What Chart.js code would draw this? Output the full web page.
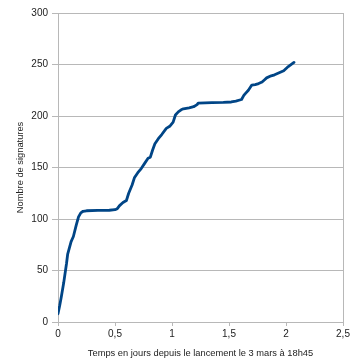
<!DOCTYPE html>
<html>
<head>
<meta charset="utf-8">
<script src="https://cdn.jsdelivr.net/npm/chart.js@4"></script>
<style>
  body { margin: 0; background: #fff; }
</style>
</head>
<body>
<canvas id="signChart" width="356" height="364"></canvas>
<script>
// temps en jours depuis le lancement
const days = [0, 0.015, 0.03, 0.05, 0.075, 0.085, 0.10, 0.115, 0.135, 0.16, 0.18, 0.20, 0.22, 0.25,
  0.35, 0.45, 0.50, 0.52, 0.54, 0.57, 0.60, 0.62, 0.65, 0.67, 0.70, 0.73, 0.76, 0.79, 0.81, 0.83,
  0.85, 0.88, 0.91, 0.95, 0.98, 1.01, 1.03, 1.055, 1.08, 1.10, 1.15, 1.19, 1.22, 1.23, 1.35, 1.45,
  1.52, 1.56, 1.61, 1.63, 1.645, 1.67, 1.70, 1.73, 1.76, 1.79, 1.81, 1.83, 1.87, 1.90, 1.94, 1.98,
  2.02, 2.07];
// nombre de signatures
const signatures = [8, 16, 25, 38, 57, 66, 72, 78, 83, 94, 102, 106, 107.5, 108,
  108.3, 108.5, 109, 110, 113, 116, 118, 125, 133, 140, 145, 149, 154, 159, 160, 167,
  173, 178, 182, 188, 190, 194, 201, 204, 206, 207, 208, 209, 211, 212.5, 213, 213.2,
  213.6, 214.5, 216, 220, 222, 225, 230, 230.5, 231.5, 233, 235, 237, 239, 240, 242, 244,
  248, 252];

const xMin = 0, xMax = 2.5, xStep = 0.5;
const yMin = 0, yMax = 300, yStep = 50;
const xTitle = "Temps en jours depuis le lancement le 3 mars à 18h45";
const yTitle = "Nombre de signatures";

const gridGray = "#b8b8b8";
const labelFont = { family: "'Liberation Sans', Arial, sans-serif", size: 10 };
const titleFont = { family: "'Liberation Sans', Arial, sans-serif", size: 9.3 };

const points = days.map((d, i) => ({ x: d, y: signatures[i] }));

const ctx = document.getElementById("signChart").getContext("2d");
new Chart(ctx, {
  type: "scatter",
  data: {
    datasets: [{
      data: points,
      showLine: true,
      borderColor: "#004586",
      borderWidth: 2.8,
      pointRadius: 0,
      tension: 0,
      borderCapStyle: "round",
      borderJoinStyle: "round"
    }]
  },
  options: {
    responsive: false,
    animation: false,
    layout: { padding: { top: 13, right: 13, left: 0, bottom: 0 } },
    plugins: {
      legend: { display: false },
      tooltip: { enabled: false }
    },
    scales: {
      x: {
        type: "linear",
        min: xMin,
        max: xMax,
        afterFit: (scale) => { scale.height = 42; },
        ticks: {
          stepSize: xStep,
          color: "#222",
          font: labelFont,
          padding: 2,
          maxRotation: 0,
          callback: (v) => String(v).replace(".", ",")
        },
        grid: {
          color: (c) => (c.tick && c.tick.value === xMax) ? gridGray : "transparent",
          tickColor: gridGray,
          tickLength: 4
        },
        border: { color: gridGray },
        title: {
          display: true,
          text: xTitle,
          color: "#222",
          font: titleFont,
          padding: { top: 0, bottom: 5 }
        }
      },
      y: {
        min: yMin,
        max: yMax,
        afterFit: (scale) => { scale.width = 58; },
        ticks: {
          stepSize: yStep,
          color: "#222",
          font: labelFont,
          padding: 4
        },
        grid: {
          color: gridGray,
          tickColor: gridGray,
          tickLength: 6
        },
        border: { color: gridGray },
        title: {
          display: true,
          text: yTitle,
          color: "#222",
          font: titleFont,
          padding: { top: 15, bottom: 0 }
        }
      }
    }
  }
});
</script>
</body>
</html>
